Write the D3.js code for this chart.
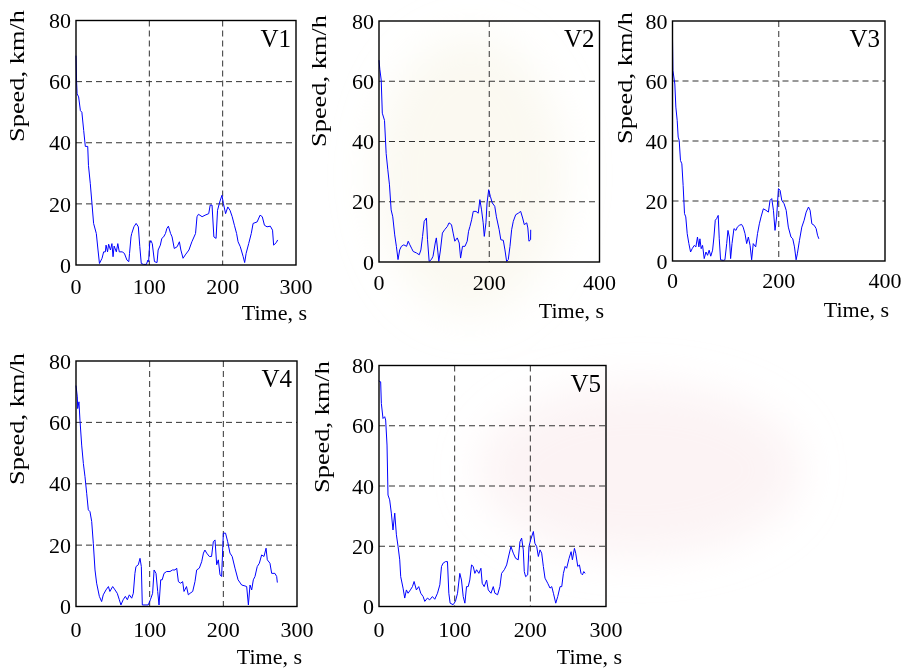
<!DOCTYPE html>
<html>
<head>
<meta charset="utf-8">
<script src="https://cdn.jsdelivr.net/npm/d3@7"></script>
<style>
  html, body { margin: 0; padding: 0; background: #fff; }
  svg { display: block; }
  text { font-family: "Liberation Serif", "Times New Roman", Times, serif; fill: #000; }
</style>
</head>
<body>
<svg id="chart" width="907" height="670"></svg>
<script>
// Speed traces of five vehicles (time in s, speed in km/h)
const v1Time  = [0, 0.8, 1.5, 3.6, 6, 8, 10.5, 12.7, 16, 17, 19.5, 21.8, 24, 27.7, 30, 32, 35.5, 37.7, 40, 41, 43, 44.5, 47, 49, 50.5, 52, 55, 57, 59, 63, 66, 69.5, 72, 73, 75, 76, 79, 82, 85, 87, 89, 92, 96, 98, 99, 100.5, 102, 104, 107, 110.5, 112, 115, 117, 119.5, 122, 124, 126, 129, 131, 134, 138, 141, 143, 146, 149, 154, 158, 163, 165, 167, 172, 176, 181, 183, 185.5, 188, 191, 193, 196, 199, 201, 204, 207, 210, 213, 216, 219, 221, 224, 228, 230, 232, 235.5, 239, 241.5, 247, 251, 254, 257, 260.5, 265, 268, 269.5, 273, 275];
const v1Speed = [68.5, 60, 56, 55, 50.5, 50, 44, 38.8, 38.8, 32.6, 26.6, 20, 13.6, 10.3, 4.9, 0.5, 2.2, 4.3, 4.3, 6.5, 4.3, 6.8, 4.9, 7, 2.7, 6.2, 4.3, 7, 4.3, 4.3, 3.8, 1.6, 1.1, 3.8, 9.2, 10.3, 12.5, 13.6, 12.5, 6, 0.5, 0.2, 0.2, 1.6, 1.1, 7, 8, 7, 1.1, 0.8, 4.9, 6.5, 8.7, 9.2, 10.3, 12, 12.7, 10.3, 9.2, 5.4, 6, 7.6, 4.9, 2.2, 3.3, 4.9, 7.6, 10.3, 15.8, 16.6, 15.8, 16.3, 16.8, 19.6, 19.6, 9.2, 8.7, 17.9, 20.6, 22.8, 20.1, 16.8, 19, 17.9, 15.8, 13, 10.3, 7.6, 6, 2.7, 0.8, 3.8, 7, 10.3, 13.6, 14.1, 16.3, 15.8, 13, 12.5, 12.7, 11.4, 6.5, 7.3, 8.2];

const v2Time  = [0, 1.5, 4, 6, 10, 13, 16, 19, 22, 25, 28.5, 31.5, 34.5, 37.5, 40.6, 45, 50, 53, 56, 59, 62, 68, 73, 76, 79, 82, 86, 88, 91, 95, 98, 102, 104, 107, 108.5, 111.5, 115, 119, 124, 127, 131.5, 134.5, 137.5, 142, 145.5, 148, 151.5, 156, 160, 162.5, 165, 168, 171, 176, 180, 183, 186, 189, 191, 194, 196, 199, 202, 205.5, 210, 213, 218, 221, 225.5, 228.5, 231.5, 234.5, 237.6, 240.6, 243.6, 248, 252.7, 257, 260.6, 263.6, 268, 270, 272, 275, 275.2];
const v2Speed = [67, 64, 60.4, 49.4, 47, 36, 30.6, 25.6, 17.3, 15, 9, 5.2, 0.8, 4, 5.2, 5.7, 5.2, 6.9, 5.7, 4.6, 3.5, 3, 2.4, 4, 8.5, 13.5, 14.6, 7.4, 0.2, 0.8, 1.9, 6.3, 8, 3, 0.2, 4, 9.6, 10.7, 11.8, 13, 12.4, 9.6, 6.9, 8, 6.3, 1.3, 5.2, 5.2, 6.9, 10.2, 11.8, 14, 16.8, 16.8, 16.2, 20.7, 17.3, 13, 8.5, 13, 19.6, 24, 21.8, 19.6, 18.5, 15, 10.7, 7.4, 7.2, 4, 0.2, 0.8, 5.2, 10.7, 13.5, 15.7, 16.2, 16.8, 14.6, 12.4, 13, 11.3, 6.9, 7.4, 10.7];

const v3Time  = [0, 0.8, 4.4, 6.3, 8.8, 10.7, 12.6, 15, 17.6, 20, 22.6, 25, 27.7, 30.8, 34, 37, 41, 44, 47, 49.7, 51.6, 54, 56.6, 59.7, 63, 66, 69, 72, 75.5, 78, 80.5, 83, 86, 88, 90.5, 95.6, 98.7, 102, 104.4, 107, 109.4, 112, 115.7, 119.5, 122, 125.8, 130, 133, 136.5, 139.6, 142.8, 146, 149, 152, 156.6, 160, 163.5, 166.7, 171, 176, 180.5, 183.6, 186.8, 190, 193, 196, 199.4, 202.5, 205.7, 210, 214, 218, 223, 226.4, 229.6, 232.7, 235, 239, 243.4, 247.8, 251.6, 256, 259, 262.3, 266.7, 270.4, 273, 275.5];
const v3Speed = [74, 63.5, 59, 51.3, 46.9, 41.3, 40.2, 33.5, 32.4, 25.2, 15.8, 14.7, 9.1, 5.8, 3, 4.1, 5.2, 4.7, 8, 4.7, 7.4, 4.1, 5.2, 0.8, 3, 1.9, 3.6, 1.6, 3.6, 8, 13.6, 14.1, 15.2, 7.4, 0.4, 0.2, 0.4, 5.8, 10.2, 8, 0.8, 5.8, 10.8, 10.2, 11.3, 11.9, 12.2, 11.3, 9.1, 5.8, 8, 5.2, 0.4, 5.8, 4.7, 9.1, 12.4, 14.7, 17.4, 16.9, 16.3, 20.2, 20.8, 16.9, 10.2, 14.7, 24.1, 23.6, 20.2, 19.1, 16.9, 11.3, 8, 7.4, 4.7, 0.4, 2.4, 6.9, 11.3, 13.6, 16.3, 18, 16.9, 12.4, 11.9, 10.8, 8.6, 7.4];

const v4Time  = [0, 1.8, 2.3, 4, 5.4, 7.7, 10, 12.2, 14.5, 16.7, 19, 21.3, 23.5, 25.8, 28, 31.7, 34.8, 37, 40.7, 44, 46, 49.8, 53, 56, 58.8, 61, 64, 67, 69.7, 72.4, 75.6, 77.8, 80, 81.4, 84.6, 86.9, 88.7, 90, 93.7, 98, 101, 104, 106, 108.6, 110.9, 112.7, 115, 117, 119.5, 123, 127.6, 131, 134.4, 136.7, 139, 142, 144.8, 146.6, 150, 152.5, 154.8, 158.4, 161.5, 163.8, 167.4, 170.6, 173, 175, 177.4, 181, 184, 186.4, 188.7, 191, 193.2, 195.5, 197.7, 200, 203, 205.9, 209, 212, 215.8, 220, 224.9, 229.4, 231.7, 234, 236.2, 238.5, 240.7, 243, 246, 248.9, 252, 255.2, 258, 259.7, 263.3, 265.6, 270, 272.4, 273.3];
const v4Speed = [72, 68.3, 64.5, 66.7, 60.7, 52.6, 46.6, 42.3, 36.9, 31.5, 30.9, 27.7, 20.6, 11.9, 7.6, 3.3, 1.6, 3.8, 5.4, 6.5, 4.9, 6.5, 5.4, 4.3, 2.2, 0.5, 2.2, 3.3, 2.2, 3.8, 2.7, 4.3, 10.8, 13, 13.6, 15.7, 13, 0.5, 0.5, 0.5, 2.2, 4.3, 11.9, 10.8, 4.9, 0.5, 8.7, 8.7, 10.8, 11.4, 11.4, 11.9, 11.9, 12.5, 8.1, 7.6, 8.1, 4.9, 6.5, 3.8, 4.3, 4.9, 8.1, 11.9, 12.5, 14.6, 17.4, 18.4, 17.4, 16.3, 16.3, 21.1, 21.7, 13.6, 15.2, 10.3, 9.8, 23.9, 23.9, 21.1, 17.4, 16.3, 12.5, 8.7, 7, 6.7, 6.5, 0.5, 7, 5.4, 8.7, 9.8, 13, 14.1, 16.8, 16.3, 19, 15.2, 14.1, 10.8, 10.8, 9.8, 7.8];

const v5Time  = [0, 0.9, 2.2, 3.1, 5.3, 7.5, 8.8, 10.6, 11.9, 14.1, 16.3, 18.5, 20.8, 23, 25.2, 27.4, 28.7, 31.8, 34, 36.2, 38.4, 41.5, 44.2, 46.4, 49.4, 52.5, 55.2, 58.3, 60.5, 64, 67, 70.6, 73.7, 77.3, 80.4, 82.6, 84.8, 87.9, 90.5, 92.3, 94, 98, 101, 103.8, 106.8, 109, 111.3, 113.5, 115.7, 117.9, 120, 122.3, 124.5, 126.7, 129, 132, 134.7, 136.4, 139, 142.2, 144.4, 148, 151, 153.2, 156.7, 159.8, 162, 165.6, 168.7, 171.7, 174.4, 177.5, 180.6, 184, 186.3, 188.5, 190.7, 192, 193.8, 196.5, 198.2, 200.4, 204, 206, 208.4, 210.6, 212.8, 215, 217.2, 219.4, 223, 226, 228.3, 230.5, 233.6, 236.2, 239.3, 241.5, 243.7, 246, 248, 251.2, 253.9, 255.6, 258.3, 260, 262.7, 264.9, 267, 268.9, 270.6, 272.4];
const v5Speed = [75, 74.6, 74.6, 67.4, 62.4, 63, 61.9, 53.6, 37, 35.4, 31, 25.4, 31, 23.8, 19.9, 15.5, 9.9, 6.1, 2.8, 5.5, 4.4, 5.5, 6.6, 8.3, 5.5, 6.6, 4.4, 3.3, 1.7, 2.8, 2.2, 3.3, 2.4, 4.4, 7.2, 13.3, 14.4, 14.9, 14.9, 4.4, 1.1, 0.6, 1.7, 4.4, 11, 8.8, 3.3, 1.1, 6.6, 6.6, 8.8, 13.8, 13.3, 11, 12.2, 11, 12.7, 7.7, 6.6, 8.8, 5.5, 4.4, 6.6, 4.4, 3.9, 6.6, 11, 12.2, 13.8, 17.1, 19.9, 17.7, 16, 15.5, 21.5, 22.7, 18.8, 11.6, 9.9, 10.5, 19.9, 22.1, 24.9, 21, 19.9, 16.6, 18.8, 17.7, 13.3, 9.4, 7.7, 6.1, 6.6, 4.4, 1.1, 3.3, 6.6, 6.6, 11, 13.3, 12.7, 16, 18.2, 15.5, 19.3, 17.7, 13.3, 13.8, 11, 10.5, 11.6, 11];

// Panel names and axis ticks
const vehicleNames = ["V1", "V2", "V3", "V4", "V5"];
const speedTicks = [0, 20, 40, 60, 80];
const timeTicks300 = [0, 100, 200, 300];
const timeTicks400 = [0, 200, 400];
const speedLabel = "Speed, km/h";
const timeLabel = "Time, s";

const seriesTime  = [v1Time, v2Time, v3Time, v4Time, v5Time];
const seriesSpeed = [v1Speed, v2Speed, v3Speed, v4Speed, v5Speed];

// Layout of the five small plots
const panels = [
  { left: 76,    right: 296,   top: 20.5,  bottom: 265,   xMax: 300, ticks: timeTicks300,
    yLabX: 20,  yLabY: 76,  xTickY: 294, tLabRight: 307, tLabY: 320 },
  { left: 379,   right: 599.5, top: 21,    bottom: 262,   xMax: 400, ticks: timeTicks400,
    yLabX: 322, yLabY: 81,  xTickY: 290, tLabRight: 604, tLabY: 318 },
  { left: 672.5, right: 885,   top: 21,    bottom: 261,   xMax: 400, ticks: timeTicks400,
    yLabX: 628, yLabY: 78,  xTickY: 288, tLabRight: 889, tLabY: 317 },
  { left: 76,    right: 297,   top: 361,   bottom: 606.5, xMax: 300, ticks: timeTicks300,
    yLabX: 20,  yLabY: 419, xTickY: 637, tLabRight: 302, tLabY: 664 },
  { left: 379,   right: 606,   top: 365.5, bottom: 606.5, xMax: 300, ticks: timeTicks300,
    yLabX: 325, yLabY: 427, xTickY: 637, tLabRight: 622, tLabY: 664 }
];

const svg = d3.select("#chart");

// faint background emblem behind the plots
const defs = svg.append("defs");
defs.append("filter").attr("id", "soft")
  .attr("x", "-50%").attr("y", "-50%").attr("width", "200%").attr("height", "200%")
  .append("feGaussianBlur").attr("stdDeviation", 22);
const bg = svg.append("g").attr("filter", "url(#soft)");
bg.append("ellipse").attr("cx", 470).attr("cy", 175).attr("rx", 95).attr("ry", 140)
  .attr("fill", "#f3edd8").attr("opacity", 0.35);
bg.append("ellipse").attr("cx", 640).attr("cy", 470).attr("rx", 160).attr("ry", 85)
  .attr("fill", "#f8e4e6").attr("opacity", 0.45);

panels.forEach((p, i) => {
  const x = d3.scaleLinear().domain([0, p.xMax]).range([p.left, p.right]);
  const y = d3.scaleLinear().domain([0, 80]).range([p.bottom, p.top]);
  const g = svg.append("g");

  // dashed grid
  g.selectAll(".gx").data(p.ticks.filter(t => t > 0 && t < p.xMax)).join("line")
    .attr("x1", d => x(d)).attr("x2", d => x(d))
    .attr("y1", p.top).attr("y2", p.bottom)
    .attr("stroke", "#333").attr("stroke-width", 1).attr("stroke-dasharray", "6,4");
  g.selectAll(".gy").data(speedTicks.filter(t => t > 0 && t < 80)).join("line")
    .attr("x1", p.left).attr("x2", p.right)
    .attr("y1", d => y(d)).attr("y2", d => y(d))
    .attr("stroke", "#333").attr("stroke-width", 1).attr("stroke-dasharray", "6,4");

  // speed trace
  const pts = seriesTime[i].map((t, k) => [t, seriesSpeed[i][k]]);
  g.append("path").datum(pts)
    .attr("fill", "none").attr("stroke", "#0000ff").attr("stroke-width", 1)
    .attr("stroke-linejoin", "round")
    .attr("d", d3.line().x(d => x(d[0])).y(d => y(d[1])));

  // frame
  g.append("rect")
    .attr("x", p.left).attr("y", p.top)
    .attr("width", p.right - p.left).attr("height", p.bottom - p.top)
    .attr("fill", "none").attr("stroke", "#000").attr("stroke-width", 1.4);

  // y tick labels
  g.selectAll(".yt").data(speedTicks).join("text")
    .attr("x", p.left - 5).attr("y", d => y(d))
    .attr("dy", "0.35em").attr("text-anchor", "end")
    .attr("font-size", 22).text(d => d);

  // x tick labels
  g.selectAll(".xt").data(p.ticks).join("text")
    .attr("x", d => x(d)).attr("y", p.xTickY)
    .attr("text-anchor", "middle").attr("font-size", 22).text(d => d);

  // axis titles
  g.append("text")
    .attr("transform", `translate(${p.yLabX + 4},${p.yLabY}) rotate(-90)`)
    .attr("text-anchor", "middle").attr("font-size", 21)
    .attr("textLength", 132).attr("lengthAdjust", "spacingAndGlyphs")
    .text(speedLabel);
  g.append("text")
    .attr("x", p.tLabRight).attr("y", p.tLabY)
    .attr("text-anchor", "end").attr("font-size", 22)
    .text(timeLabel);

  // vehicle name
  g.append("text")
    .attr("x", p.right - 5).attr("y", p.top + 26)
    .attr("text-anchor", "end").attr("font-size", 25)
    .text(vehicleNames[i]);
});
</script>
</body>
</html>
